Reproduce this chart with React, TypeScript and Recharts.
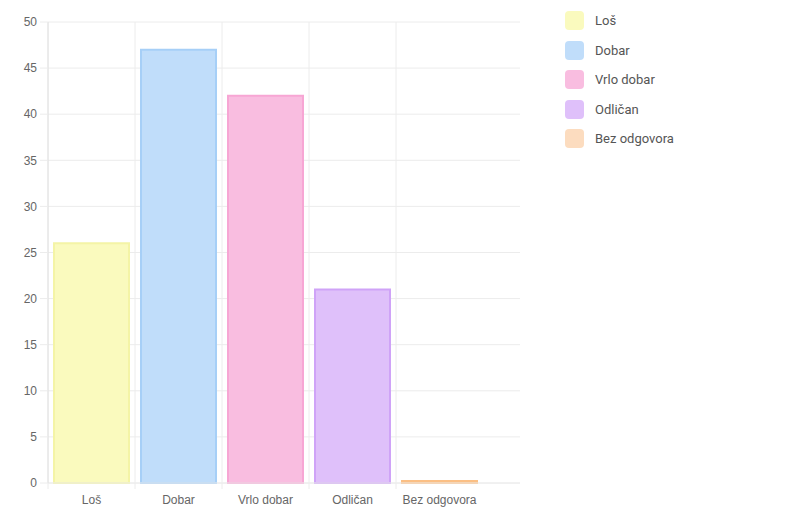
import { BarChart, Bar, XAxis, YAxis, CartesianGrid, Cell } from 'recharts';

// ==========================================
// DATA
// ==========================================

const categories = ['Loš', 'Dobar', 'Vrlo dobar', 'Odličan', 'Bez odgovora'];

const values = [26, 47, 42, 21, 0];

const yTicks = [0, 5, 10, 15, 20, 25, 30, 35, 40, 45, 50];

const fills = ['#fafabe', '#c0ddfa', '#f9bde0', '#dfc0fa', '#fcdcbf'];

const borders = ['#f4f4a6', '#a6cff7', '#f7a6d4', '#cfa3f7', '#fbbf84'];

const data = categories.map((name, i) => ({ name, value: values[i] }));

// ==========================================
// LAYOUT
// ==========================================

const CHART_W = 540;
const CHART_H = 514;
const PLOT_LEFT = 48;
const PAD_RIGHT = 37;
const MARGIN_RIGHT = 20;
const PLOT_W = CHART_W - PLOT_LEFT - MARGIN_RIGHT;
const BAND = (PLOT_W - PAD_RIGHT) / categories.length;

const gridColor = '#ececec';
const tickFont = '"Liberation Sans", Arial, sans-serif';

// tick label + boundary tick mark
function XTick(props: any) {
  const { x, y, payload } = props;
  const left = x - BAND / 2;
  return (
    <g>
      <line x1={left} y1={y - 8} x2={left} y2={y - 2} stroke={gridColor} />
      <text
        x={x}
        y={y + 4}
        dy="0.71em"
        textAnchor="middle"
        fill="#666"
        fontSize={12}
        fontFamily={tickFont}
      >
        {payload.value}
      </text>
    </g>
  );
}

export default function App() {
  return (
    <div style={{ position: 'absolute', left: 0, top: 0, width: 790, height: 514, background: '#fff' }}>
      <BarChart
        width={CHART_W}
        height={CHART_H}
        data={data}
        margin={{ top: 22, right: MARGIN_RIGHT, left: 0, bottom: 7 }}
        barCategoryGap={6}
      >
        <CartesianGrid
          stroke={gridColor}
          verticalCoordinatesGenerator={({ offset }: any) =>
            categories.map((_, i) => offset.left + i * BAND)
          }
        />

        <XAxis
          dataKey="name"
          padding={{ left: 0, right: PAD_RIGHT }}
          height={24}
          tickLine={false}
          axisLine={{ stroke: gridColor }}
          interval={0}
          tick={<XTick />}
        />

        <YAxis
          domain={[0, 50]}
          ticks={yTicks}
          width={PLOT_LEFT}
          tickSize={8}
          tickMargin={3}
          tickLine={{ stroke: gridColor }}
          axisLine={{ stroke: '#e2e2e2' }}
          tick={{ fill: '#666', fontSize: 12, fontFamily: tickFont }}
          interval={0}
        />

        <Bar dataKey="value" strokeWidth={2} minPointSize={2} isAnimationActive={false}>
          {data.map((d, i) => (
            <Cell key={d.name} fill={fills[i]} stroke={borders[i]} />
          ))}
        </Bar>
      </BarChart>

      {/* LEGEND */}
      <div style={{ position: 'absolute', left: 565, top: 11, fontFamily: 'Roboto, sans-serif', fontSize: 13, color: '#555' }}>
        {categories.map((name, i) => (
          <div key={name} style={{ display: 'flex', alignItems: 'center', height: 19, marginBottom: 10.5 }}>
            <div style={{ width: 19, height: 19, borderRadius: 4, background: fills[i], marginRight: 11 }} />
            <span>{name}</span>
          </div>
        ))}
      </div>
    </div>
  );
}
